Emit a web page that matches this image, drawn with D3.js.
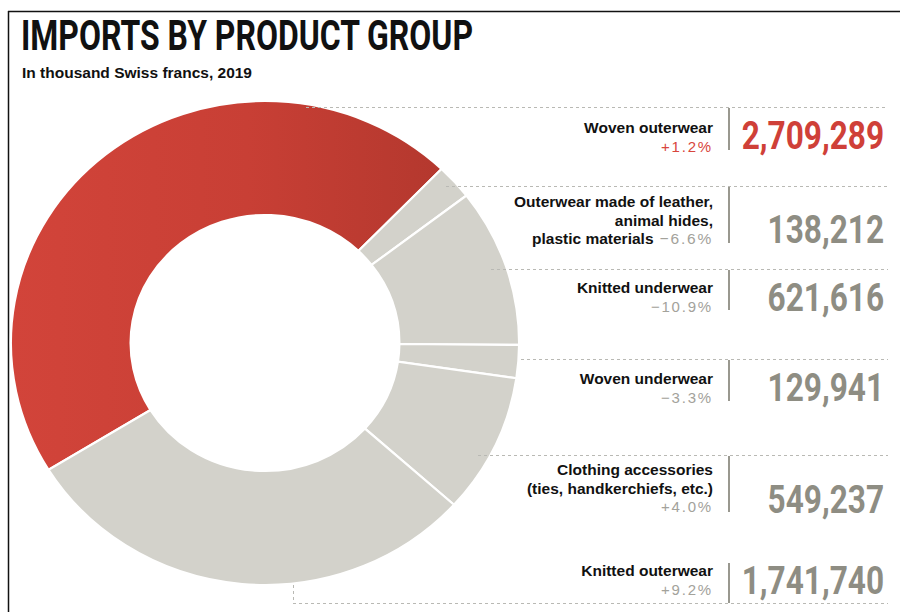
<!DOCTYPE html>
<html>
<head>
<meta charset="utf-8">
<script src="https://cdn.jsdelivr.net/npm/d3@7"></script>
<style>
  html, body { margin: 0; padding: 0; background: #fff; }
  svg { display: block; }
</style>
</head>
<body>
<svg id="chart" width="900" height="612"></svg>
<script>
// Swiss clothing imports by product group, 2019 (thousand CHF)
const categories = [
  "Woven outerwear",
  "Outerwear made of leather, animal hides, plastic materials",
  "Knitted underwear",
  "Woven underwear",
  "Clothing accessories (ties, handkerchiefs, etc.)",
  "Knitted outerwear"
];
const labelLines = [
  ["Woven outerwear"],
  ["Outerwear made of leather,", "animal hides,", "plastic materials"],
  ["Knitted underwear"],
  ["Woven underwear"],
  ["Clothing accessories", "(ties, handkerchiefs, etc.)"],
  ["Knitted outerwear"]
];
const values = [2709289, 138212, 621616, 129941, 549237, 1741740];
const changes = ["+1.2%", "\u22126.6%", "\u221210.9%", "\u22123.3%", "+4.0%", "+9.2%"];
const highlighted = [true, false, false, false, false, false];

const title = "IMPORTS BY PRODUCT GROUP";
const subtitle = "In thousand Swiss francs, 2019";

const svg = d3.select("#chart");

const RED = "#cf4038";
const GREY_SLICE = "#d3d2cb";
const GREY_NUM = "#8e8d83";
const GREY_PCT = "#a3a29b";
const LABEL_FONT = "'Liberation Sans', Arial, sans-serif";

// gradient for the highlighted slice (lighter on the left, darker on the right)
const defs = svg.append("defs");
const grad = defs.append("linearGradient")
  .attr("id", "redGrad").attr("x1", 0).attr("y1", 0).attr("x2", 1).attr("y2", 0);
grad.append("stop").attr("offset", "0%").attr("stop-color", "#d2443a");
grad.append("stop").attr("offset", "55%").attr("stop-color", "#c83f35");
grad.append("stop").attr("offset", "100%").attr("stop-color", "#b4382e");

defs.append("clipPath").attr("id", "frameClip")
  .append("rect").attr("x", 8).attr("y", 11).attr("width", 892).attr("height", 601);

// frame
svg.append("line").attr("x1", 8).attr("y1", 11.5).attr("x2", 900).attr("y2", 11.5)
  .attr("stroke", "#111").attr("stroke-width", 1.5);
svg.append("line").attr("x1", 8.5).attr("y1", 11).attr("x2", 8.5).attr("y2", 612)
  .attr("stroke", "#111").attr("stroke-width", 1.5);

// title block
svg.append("text")
  .attr("x", 21).attr("y", 50)
  .attr("font-family", "Roboto, 'DejaVu Sans', sans-serif")
  .attr("font-weight", 700).attr("font-size", 42)
  .attr("textLength", 452).attr("lengthAdjust", "spacingAndGlyphs")
  .attr("fill", "#111").text(title);
svg.append("text")
  .attr("x", 22).attr("y", 78)
  .attr("font-family", LABEL_FONT)
  .attr("font-weight", 700).attr("font-size", 15.5)
  .attr("fill", "#111").text(subtitle);

// donut (drawn slightly wider than tall)
const cx = 265, cy = 343, rOuter = 242, rInner = 128, stretchX = 1.05;
const total = d3.sum(values);
const boundaryAngle = 44 * Math.PI / 180; // where the highlighted slice ends
const startAngle = boundaryAngle - 2 * Math.PI * values[0] / total;
const pie = d3.pie().sort(null).value(d => d)
  .startAngle(startAngle).endAngle(startAngle + 2 * Math.PI);
const arc = d3.arc().innerRadius(rInner).outerRadius(rOuter);

const donut = svg.append("g").attr("clip-path", "url(#frameClip)")
  .append("g").attr("transform", `translate(${cx},${cy}) scale(${stretchX},1)`);
donut.selectAll("path")
  .data(pie(values))
  .join("path")
  .attr("d", arc)
  .attr("fill", (d, i) => highlighted[i] ? "url(#redGrad)" : GREY_SLICE)
  .attr("stroke", "#fff").attr("stroke-width", 2.2)
  .attr("vector-effect", "non-scaling-stroke");

// right-hand table
const rows = [
  { line: 107, lineStart: 306, sepTop: 108, sepBot: 150, num: 149, label: 133 },
  { line: 186, lineStart: 446, sepTop: 187, sepBot: 243, num: 243, label: 207 },
  { line: 269, lineStart: 491, sepTop: 270, sepBot: 310, num: 311, label: 293 },
  { line: 359, lineStart: 521, sepTop: 360, sepBot: 401, num: 401, label: 384 },
  { line: 455, lineStart: 478, sepTop: 456, sepBot: 512, num: 513, label: 475 },
  { line: null, lineStart: 0, sepTop: 563, sepBot: 603, num: 594, label: 576 }
];
const lineH = 18.5;
const labelX = 713, sepX = 729, numRight = 884, lineEnd = 888;

const dash = (x1, y1, x2, y2) => svg.append("line")
  .attr("x1", x1).attr("y1", y1).attr("x2", x2).attr("y2", y2)
  .attr("stroke", "#b9b9b4").attr("stroke-width", 1).attr("stroke-dasharray", "3,3");

rows.forEach(r => { if (r.line !== null) dash(r.lineStart, r.line + 0.5, lineEnd, r.line + 0.5); });
dash(293.5, 585, 293.5, 603);
dash(293, 603.5, lineEnd, 603.5);

const numFmt = d3.format(",");
const numScaleX = 0.81;

categories.forEach((c, i) => {
  const r = rows[i];
  const lines = labelLines[i];
  const g = svg.append("g");
  const inlinePct = lines.length === 3; // percentage sits on the last label line
  lines.forEach((ln, j) => {
    const t = g.append("text")
      .attr("x", labelX).attr("y", r.label + j * lineH)
      .attr("text-anchor", "end")
      .attr("font-family", LABEL_FONT)
      .attr("font-weight", 700).attr("font-size", 15.5)
      .attr("fill", "#111");
    t.append("tspan").text(ln);
    if (inlinePct && j === lines.length - 1) {
      t.append("tspan").text(" " + changes[i])
        .attr("font-weight", 400).attr("letter-spacing", 1.8)
        .attr("fill", highlighted[i] ? "#d8463c" : GREY_PCT);
    }
  });
  if (!inlinePct) {
    g.append("text")
      .attr("x", labelX).attr("y", r.label + lines.length * lineH)
      .attr("text-anchor", "end")
      .attr("font-family", LABEL_FONT)
      .attr("font-size", 15).attr("letter-spacing", 1.8)
      .attr("fill", highlighted[i] ? "#d8463c" : GREY_PCT)
      .text(changes[i]);
  }
  // separator
  svg.append("line")
    .attr("x1", sepX).attr("x2", sepX).attr("y1", r.sepTop).attr("y2", r.sepBot)
    .attr("stroke", "#8e8d83").attr("stroke-width", 1.8);
  // value
  svg.append("text")
    .attr("transform", `translate(${numRight},${r.num}) scale(${numScaleX},1)`)
    .attr("text-anchor", "end")
    .attr("font-family", "Roboto, 'DejaVu Sans', sans-serif")
    .attr("font-weight", 700).attr("font-size", 39)
    .attr("fill", highlighted[i] ? RED : GREY_NUM)
    .text(numFmt(values[i]));
});
</script>
</body>
</html>
